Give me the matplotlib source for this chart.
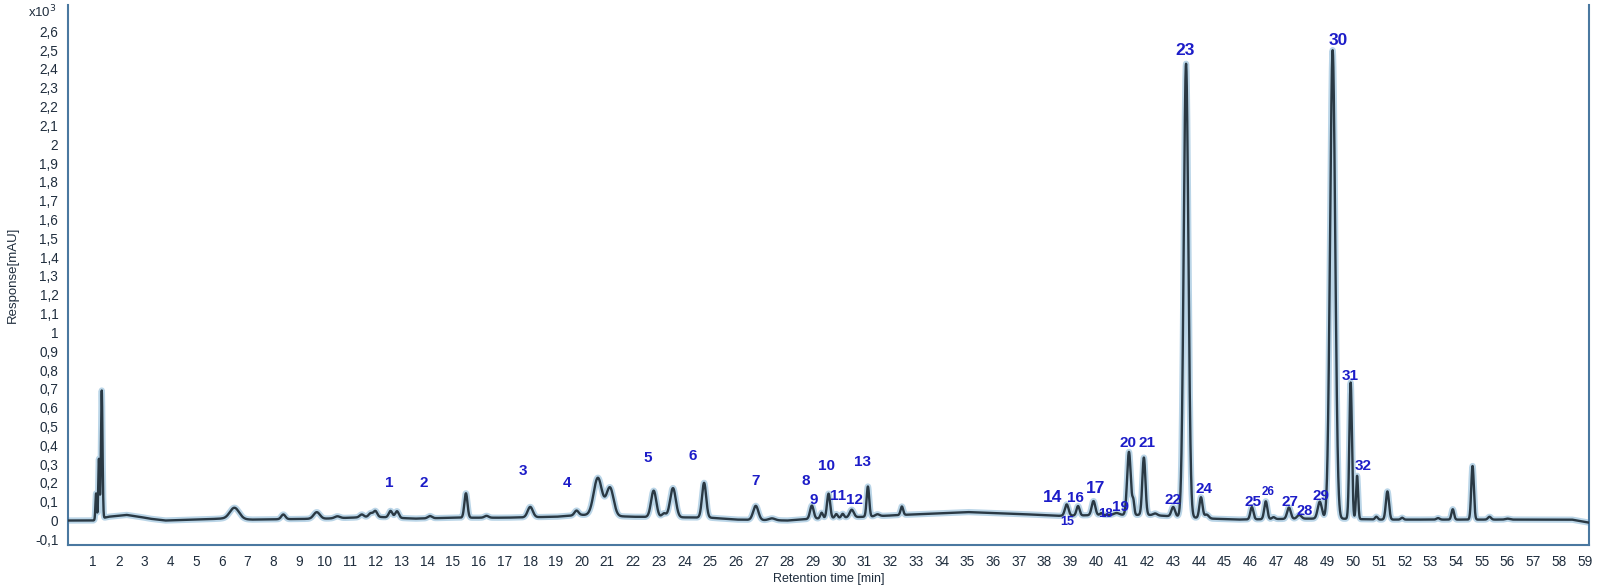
import numpy as np
import matplotlib
matplotlib.use("Agg")
import matplotlib.pyplot as plt
from matplotlib.ticker import FixedLocator, FuncFormatter

# ---- data (retention time in min, response x10^3 mAU)
peak_rt = [1.12, 1.23, 1.34, 6.5, 8.4, 9.7, 10.5, 11.45, 11.8, 11.98, 12.57, 12.82,
           14.1, 15.5, 16.3, 18.0, 19.8, 20.63, 21.1, 22.8, 23.2, 23.55, 24.76,
           26.77, 27.4, 28.95, 29.33, 29.6, 29.9, 30.15, 30.5, 31.13, 31.5, 32.45,
           38.86, 39.3, 39.9, 40.2, 40.8, 41.28, 41.45, 41.86, 42.3, 43.0, 43.5,
           44.08, 44.3, 46.06, 46.6, 46.9, 47.5, 47.9, 48.7, 49.2, 49.9, 50.15,
           50.9, 51.33, 51.9, 53.3, 53.87, 54.64, 55.3, 56.0]
peak_height = [0.14, 0.32, 0.68, 0.06, 0.025, 0.035, 0.01, 0.015, 0.02, 0.03, 0.035, 0.035,
               0.012, 0.13, 0.01, 0.055, 0.025, 0.2, 0.15, 0.14, 0.02, 0.155, 0.185,
               0.075, 0.01, 0.07, 0.03, 0.13, 0.02, 0.02, 0.04, 0.16, 0.01, 0.045,
               0.06, 0.05, 0.075, 0.01, 0.01, 0.335, 0.07, 0.305, 0.01, 0.05, 2.41,
               0.11, 0.02, 0.065, 0.095, 0.01, 0.06, 0.02, 0.09, 2.49, 0.725, 0.23,
               0.015, 0.15, 0.01, 0.008, 0.055, 0.285, 0.015, 0.005]
peak_sigma = [0.025, 0.025, 0.03, 0.18, 0.08, 0.12, 0.1, 0.08, 0.08, 0.07, 0.07, 0.07,
              0.08, 0.06, 0.08, 0.1, 0.08, 0.16, 0.14, 0.1, 0.08, 0.11, 0.08,
              0.1, 0.12, 0.07, 0.05, 0.06, 0.05, 0.05, 0.08, 0.05, 0.08, 0.05,
              0.07, 0.06, 0.07, 0.05, 0.1, 0.07, 0.04, 0.06, 0.08, 0.07, 0.09,
              0.06, 0.08, 0.06, 0.06, 0.06, 0.07, 0.08, 0.08, 0.1, 0.05, 0.04,
              0.05, 0.06, 0.05, 0.06, 0.05, 0.05, 0.06, 0.08]

base_rt = [0.0, 1.0, 1.6, 2.3, 2.8, 3.2, 3.8, 5.0, 6.0, 7.2, 10.0, 12.0, 13.5, 15.0,
           17.0, 19.0, 20.0, 22.0, 25.0, 26.0, 28.0, 29.0, 31.0, 32.5, 35.0, 37.0,
           38.5, 40.5, 42.0, 44.5, 45.5, 48.0, 49.5, 51.0, 58.5, 59.2]
base_level = [0.0, 0.0, 0.02, 0.03, 0.02, 0.01, 0.0, 0.005, 0.01, 0.005, 0.01, 0.02,
              0.01, 0.015, 0.015, 0.02, 0.03, 0.02, 0.015, 0.005, 0.0, 0.01, 0.02,
              0.03, 0.045, 0.035, 0.025, 0.03, 0.03, 0.01, 0.005, 0.01, 0.01, 0.005,
              0.005, -0.012]

labels = ["1", "2", "3", "4", "5", "6", "7", "8", "9", "10", "11", "12", "13", "14",
          "15", "16", "17", "18", "19", "20", "21", "22", "23", "24", "25", "26",
          "27", "28", "29", "30", "31", "32"]
label_rt = [12.5, 13.87, 17.7, 19.43, 22.58, 24.33, 26.77, 28.72, 29.03, 29.53, 29.97,
            30.6, 30.92, 38.3, 38.9, 39.2, 40.0, 40.35, 40.95, 41.24, 41.97, 43.0,
            43.46, 44.2, 46.1, 46.7, 47.55, 48.1, 48.75, 49.42, 49.9, 50.4]
label_y = [0.20, 0.20, 0.265, 0.20, 0.33, 0.345, 0.21, 0.21, 0.11, 0.29, 0.13, 0.11,
           0.31, 0.12, -0.01, 0.12, 0.17, 0.035, 0.07, 0.41, 0.41, 0.11, 2.5, 0.17,
           0.10, 0.15, 0.10, 0.05, 0.13, 2.55, 0.77, 0.29]

LINE = "#2a3944"
HALO = "#a9cbe2"
SPINE = "#4a78a0"
TICK = "#1f2d3d"
BLUE = "#1c1cc8"

plt.rcParams.update({"font.family": ["Liberation Sans", "DejaVu Sans"]})

t = np.linspace(0.0, 59.2, 20000)
y = np.interp(t, base_rt, base_level)
for rt, h, s in zip(peak_rt, peak_height, peak_sigma):
    y += h * np.exp(-0.5 * ((t - rt) / s) ** 2)

fig = plt.figure(figsize=(16, 5.85), dpi=100)
ax = fig.add_axes([0.0425, 0.0684, 0.9505, 0.923])
ax.plot(t, y, color=HALO, lw=4.5, alpha=0.8, solid_capstyle="round", zorder=2)
ax.plot(t, y, color=LINE, lw=1.7, zorder=3)

ax.set_xlim(0.028, 59.16)
ax.set_ylim(-0.13, 2.74)

ax.xaxis.set_major_locator(FixedLocator(np.arange(1, 60)))
ax.yaxis.set_major_locator(FixedLocator(np.round(np.arange(-0.1, 2.65, 0.1), 1)))
ax.yaxis.set_major_formatter(FuncFormatter(lambda v, p: f"{v:g}".replace(".", ",")))
ax.tick_params(length=0, labelsize=9.8, labelcolor=TICK, pad=7)

ax.spines["top"].set_visible(False)
for side in ("left", "right", "bottom"):
    ax.spines[side].set_color(SPINE)
    ax.spines[side].set_linewidth(1.5)

ax.set_xlabel("Retention time [min]", fontsize=9, color=TICK, labelpad=3)
ax.set_ylabel("Response[mAU]", fontsize=9.5, color=TICK)
ax.yaxis.set_label_coords(-0.032, 0.5)
fig.text(28 / 1600, 1 - 12 / 585, "x10$^3$", fontsize=9.5, color=TICK,
         ha="left", va="center")

big = {"23": 12.5, "30": 12.5, "14": 12.5, "17": 12.5}
small = {"15": 9, "26": 8.5, "18": 9.5, "28": 10.5}
for lab, lx, ly in zip(labels, label_rt, label_y):
    fs = big.get(lab, small.get(lab, 11))
    ax.text(lx, ly, lab, fontsize=fs, color=BLUE, fontweight="bold",
            ha="center", va="center", zorder=4)

fig.savefig("out.png", dpi=100)
